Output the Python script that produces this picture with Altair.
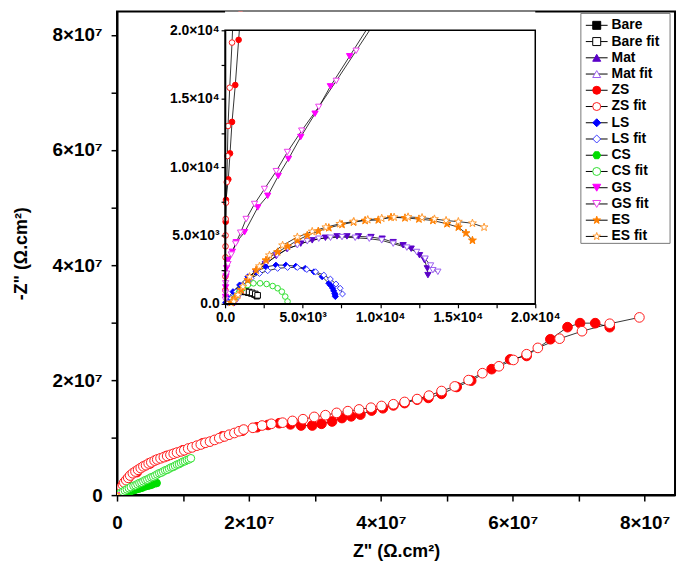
import altair as alt
import pandas as pd

NAMES = ["Bare", "Bare fit", "Mat", "Mat fit", "ZS", "ZS fit", "LS", "LS fit",
         "CS", "CS fit", "GS", "GS fit", "ES", "ES fit"]
STROKES = ["#000000", "#000000", "#5A00C8", "#9A5CF0", "#FF0000", "#FF1A1A",
           "#0000FF", "#3A3AFF", "#00DD00", "#30E030", "#FF00FF", "#EE3CEE",
           "#FF7F00", "#FF9A33"]
FILLS = ["#000000", "#FFFFFF", "#5A00C8", "#FFFFFF", "#FF0000", "#FFFFFF",
         "#0000FF", "#FFFFFF", "#00DD00", "#FFFFFF", "#FF00FF", "#FFFFFF",
         "#FF7F00", "#FFFFFF"]
STAR = ("M0,-1L0.235,-0.324L0.951,-0.309L0.38,0.124L0.588,0.809L0,0.4"
        "L-0.588,0.809L-0.38,0.124L-0.951,-0.309L-0.235,-0.324Z")
HEX = "M-1,0L-0.5,-0.866L0.5,-0.866L1,0L0.5,0.866L-0.5,0.866Z"
DATA_SHAPES = ["square", "square", "triangle-down", "triangle-down", "circle", "circle",
               "diamond", "diamond", "circle", "circle", "triangle-down", "triangle-down",
               STAR, STAR]
LEGEND_SHAPES = ["square", "square", "triangle-up", "triangle-up", "circle", "circle",
                 "diamond", "diamond", HEX, "circle", "triangle-down", "triangle-down",
                 STAR, STAR]
MAIN_SIZES = [20, 20, 20, 20, 95, 95, 20, 20, 60, 60, 20, 20, 30, 30]
INSET_SIZES = [32, 32, 40, 40, 32, 32, 36, 36, 32, 32, 40, 40, 70, 70]

# ---- data (ohm.cm2); "large" arrays are in units of 1e7 ----
BARE_X = [900, 1100, 1300, 1500, 1700, 1900, 2050]
BARE_Y = [920, 900, 870, 820, 760, 680, 560]
BAREFIT_X = [950, 1150, 1350, 1550, 1750, 1950, 2100]
BAREFIT_Y = [950, 930, 900, 860, 800, 720, 620]

MAT_X = [600, 800, 1100, 1500, 2000, 2600, 3300, 4000, 4880, 5620, 6470, 7220, 7860,
         8600, 9410, 10130, 10840, 11480, 12000, 12540, 12860, 13040, 13080]
MAT_Y = [50, 400, 950, 1600, 2300, 2900, 3500, 4000, 4400, 4640, 4830, 4930, 4930,
         4930, 4880, 4760, 4510, 4280, 4030, 3550, 3190, 2590, 2100]
MATFIT_X = [650, 850, 1150, 1550, 2050, 2650, 3350, 4050, 4660, 5300, 6040, 6800, 7540,
            8390, 9300, 10100, 10840, 11720, 12350, 12900, 13250, 13400, 13720]
MATFIT_Y = [100, 450, 1000, 1650, 2350, 2950, 3550, 4050, 4280, 4570, 4760, 4830, 4880,
            4830, 4760, 4640, 4400, 4110, 3790, 3300, 2800, 2460, 2340]

ZS_X_SMALL = [40, 60, 210, 320, 450, 660, 875, 1000]
ZS_Y_SMALL = [6000, 7600, 9100, 11000, 13300, 16000, 19300, 21200]
ZS_X_LARGE = [0.05, 0.15, 0.30, 0.50, 0.75, 1.00, 1.30, 1.60, 1.90, 2.12, 2.29, 2.46,
              2.63, 2.79, 2.96, 3.10, 3.26, 3.41, 3.55, 3.69, 3.86, 4.03, 4.19, 4.36,
              4.55, 4.72, 4.92, 5.15, 5.37, 5.68, 5.96, 6.21, 6.57, 6.83, 7.02, 7.25, 7.47]
ZS_Y_LARGE = [0.10, 0.25, 0.40, 0.55, 0.68, 0.78, 0.90, 1.02, 1.12, 1.18, 1.22, 1.25,
              1.23, 1.21, 1.21, 1.24, 1.28, 1.34, 1.37, 1.40, 1.47, 1.51, 1.56, 1.60,
              1.66, 1.69, 1.76, 1.88, 1.99, 2.19, 2.36, 2.42, 2.71, 2.92, 2.99, 2.99, 2.92]

ZSFIT_X_SMALL = [20, 25, 30, 30, 35, 40, 60, 110, 150, 190, 300, 450, 520]
ZSFIT_Y_SMALL = [1000, 2000, 3400, 4200, 5000, 6200, 7400, 8900, 10800, 13000, 15800,
                 19100, 21000]
ZSFIT_X_LARGE = [0.02, 0.04, 0.07, 0.09, 0.11, 0.14, 0.17, 0.20, 0.24, 0.28, 0.32, 0.36,
                 0.40, 0.44, 0.48, 0.52, 0.57, 0.61, 0.66, 0.71, 0.76, 0.81, 0.86, 0.91,
                 0.97, 1.02, 1.08, 1.14, 1.21, 1.27, 1.34, 1.41, 1.48, 1.55, 1.63, 1.70,
                 1.78, 1.85, 1.92, 2.06, 2.20, 2.34, 2.51,
                 2.66, 2.82, 2.99, 3.16, 3.33, 3.50, 3.67, 3.85, 4.01, 4.19, 4.36, 4.55,
                 4.73, 4.92, 5.12, 5.33, 5.54, 5.79, 6.01, 6.21, 6.38, 6.71, 7.05, 7.47, 7.92]
ZSFIT_Y_LARGE = [0.05, 0.09, 0.14, 0.18, 0.22, 0.26, 0.30, 0.34, 0.38, 0.41, 0.44, 0.47,
                 0.50, 0.52, 0.55, 0.57, 0.60, 0.62, 0.64, 0.66, 0.68, 0.70, 0.72, 0.74,
                 0.76, 0.78, 0.81, 0.83, 0.86, 0.88, 0.91, 0.93, 0.96, 0.99, 1.02, 1.05,
                 1.08, 1.11, 1.14, 1.17, 1.21, 1.24, 1.26,
                 1.29, 1.32, 1.36, 1.39, 1.43, 1.46, 1.49, 1.52, 1.55, 1.58, 1.62, 1.67,
                 1.73, 1.81, 1.89, 2.00, 2.12, 2.24, 2.35, 2.45, 2.56, 2.72, 2.85, 2.98, 3.09]

LS_X = [40, 190, 510, 940, 1470, 2000, 2640, 3280, 3920, 4560, 5160, 5730, 6260, 6690,
        6800, 6940, 7000, 7070, 7100, 7110]
LS_Y = [90, 410, 890, 1380, 1980, 2340, 2700, 2830, 2830, 2750, 2590, 2340, 1980, 1500,
        1350, 1140, 950, 770, 650, 530]
LSFIT_X = [190, 400, 720, 1150, 1680, 2220, 2750, 3390, 4030, 4660, 5270, 5840, 6370,
           6790, 7150, 7420, 7570]
LSFIT_Y = [90, 410, 890, 1380, 1860, 2220, 2420, 2590, 2660, 2660, 2510, 2340, 2100,
           1810, 1450, 1140, 720]

CS_X_LARGE = [0.01, 0.03, 0.05, 0.08, 0.10, 0.13, 0.15, 0.18, 0.20, 0.23, 0.26, 0.29,
              0.32, 0.35, 0.38, 0.42, 0.45, 0.49, 0.52, 0.56, 0.60]
CS_Y_LARGE = [0.01, 0.01, 0.02, 0.03, 0.04, 0.04, 0.05, 0.06, 0.07, 0.08, 0.09, 0.10,
              0.11, 0.12, 0.13, 0.15, 0.16, 0.17, 0.18, 0.20, 0.21]
CSFIT_X_SMALL = [510, 680, 890, 1150, 1470, 1830, 2260, 2680, 3070, 3390, 3660, 3880, 4030]
CSFIT_Y_SMALL = [170, 480, 820, 1140, 1380, 1500, 1500, 1450, 1300, 1140, 890, 530, 170]
CSFIT_X_LARGE = [0.03, 0.06, 0.09, 0.12, 0.15, 0.18, 0.21, 0.25, 0.28, 0.31, 0.34, 0.37,
                 0.40, 0.43, 0.46, 0.49, 0.52, 0.55, 0.58, 0.61, 0.64, 0.67, 0.70, 0.73,
                 0.76, 0.79, 0.82, 0.85, 0.88, 0.91, 0.94, 0.97, 1.00, 1.03, 1.06, 1.09,
                 1.12]
CSFIT_Y_LARGE = [0.02, 0.04, 0.06, 0.08, 0.10, 0.12, 0.14, 0.16, 0.17, 0.19, 0.21, 0.22,
                 0.24, 0.26, 0.27, 0.29, 0.31, 0.32, 0.34, 0.36, 0.38, 0.39, 0.41, 0.43,
                 0.44, 0.46, 0.48, 0.49, 0.51, 0.53, 0.54, 0.56, 0.58, 0.59, 0.61, 0.62,
                 0.64]

GS_X = [30, 40, 60, 100, 190, 470, 720, 1260, 2110, 2750, 3430, 4090, 4880, 5800, 6790,
        8030, 9600]
GS_Y = [500, 1200, 2000, 2600, 3200, 3800, 4500, 5240, 7050, 7900, 9350, 10600, 12200,
        13900, 15900, 18100, 20900]
GSFIT_X = [20, 30, 40, 100, 190, 400, 680, 1000, 1360, 1900, 2540, 3300, 4020, 4940,
           6040, 7170, 8450, 9900]
GSFIT_Y = [300, 800, 1500, 2200, 2900, 3600, 4400, 5200, 6200, 7300, 8400, 9700, 11100,
           12660, 14400, 16300, 18500, 21000]

ES_X = [400, 620, 1040, 1470, 2000, 2640, 3390, 4030, 4660, 5300, 6010, 6690, 7540, 8280,
        9030, 9880, 10700, 11600, 12500, 13400, 14310, 15040, 15530, 15950]
ES_Y = [90, 410, 1010, 1740, 2460, 3190, 3790, 4200, 4640, 5000, 5310, 5560, 5800, 5970,
        6090, 6130, 6330, 6280, 6200, 6090, 5850, 5600, 5170, 4640]
ESFIT_X = [560, 830, 1150, 1580, 2220, 2860, 3710, 4660, 5620, 6500, 7400, 8300, 9200,
           10100, 10900, 11800, 12700, 13500, 14250, 15040, 15950, 16700]
ESFIT_Y = [170, 650, 1260, 1980, 2750, 3550, 4280, 4880, 5290, 5600, 5850, 6020, 6150,
           6250, 6330, 6350, 6300, 6200, 6090, 6010, 5890, 5600]

E7 = 1e7
segments = [
    ("Bare", "a", BARE_X, BARE_Y, 1), ("Bare fit", "a", BAREFIT_X, BAREFIT_Y, 1),
    ("Mat", "a", MAT_X, MAT_Y, 1), ("Mat fit", "a", MATFIT_X, MATFIT_Y, 1),
    ("ZS", "a", ZS_X_SMALL, ZS_Y_SMALL, 1), ("ZS", "b", ZS_X_LARGE, ZS_Y_LARGE, E7),
    ("ZS fit", "a", ZSFIT_X_SMALL, ZSFIT_Y_SMALL, 1),
    ("ZS fit", "b", ZSFIT_X_LARGE, ZSFIT_Y_LARGE, E7),
    ("LS", "a", LS_X, LS_Y, 1), ("LS fit", "a", LSFIT_X, LSFIT_Y, 1),
    ("CS", "b", CS_X_LARGE, CS_Y_LARGE, E7),
    ("CS fit", "a", CSFIT_X_SMALL, CSFIT_Y_SMALL, 1),
    ("CS fit", "b", CSFIT_X_LARGE, CSFIT_Y_LARGE, E7),
    ("GS", "a", GS_X, GS_Y, 1), ("GS fit", "a", GSFIT_X, GSFIT_Y, 1),
    ("ES", "a", ES_X, ES_Y, 1), ("ES fit", "a", ESFIT_X, ESFIT_Y, 1),
]
rows = []
for name, seg, xs, ys, k in segments:
    for i, (xv, yv) in enumerate(zip(xs, ys)):
        rows.append({"series": name, "key": name + "|" + seg, "idx": i,
                     "x": xv * k, "y": yv * k})
df = pd.DataFrame(rows)

FONT = "Liberation Sans"


def point_layers(xenc, yenc, sizes):
    layers = []
    for name, shp, fil, stk, sz in zip(NAMES, DATA_SHAPES, FILLS, STROKES, sizes):
        layers.append(
            alt.Chart(df).transform_filter(alt.datum.series == name)
            .mark_point(shape=shp, fill=fil, stroke=stk, filled=True, opacity=1,
                        strokeWidth=1, size=sz, clip=True)
            .encode(x=xenc, y=yenc)
        )
    return layers


# ---------------- main plot ----------------
main_ticks = [i * 1e7 for i in range(0, 9)]
main_expr = ("datum.value == 0 ? '0' : (datum.value % 20000000 == 0 ? "
             "format(datum.value / 10000000, 'd') + '×10⁷' : '')")
mx_axis = alt.Axis(values=main_ticks, labelExpr=main_expr, title='Z" (Ω.cm²)', grid=False,
                   tickSize=6, tickWidth=1.5, domainWidth=2, labelFontSize=19,
                   titleFontSize=18, labelPadding=13, titlePadding=10, labelFlush=False,
                   labelOverlap=False)
my_axis = alt.Axis(values=main_ticks, labelExpr=main_expr, title='-Z" (Ω.cm²)', grid=False,
                   tickSize=6, tickWidth=1.5, domainWidth=2, labelFontSize=19,
                   titleFontSize=18, labelPadding=9, titlePadding=22, labelFlush=False,
                   labelOverlap=False)
mx = alt.X("x:Q", scale=alt.Scale(domain=[0, 8.46e7], nice=False, zero=False), axis=mx_axis)
my = alt.Y("y:Q", scale=alt.Scale(domain=[0, 8.41e7], nice=False, zero=False), axis=my_axis)

main_lines = alt.Chart(df).mark_line(color="black", strokeWidth=0.8, clip=True).encode(
    x=mx, y=my, detail="key:N", order="idx:Q")
main = alt.layer(main_lines, *point_layers(mx, my, MAIN_SIZES))

# ---------------- inset ----------------
inset_ticks = [i * 2500 for i in range(0, 9)]
inset_expr = ("datum.value == 0 ? '0.0' : (datum.value % 5000 != 0 ? '' : "
              "(datum.value < 10000 ? format(datum.value / 1000, '.1f') + '×10³' : "
              "format(datum.value / 10000, '.1f') + '×10⁴'))")
ix_axis = alt.Axis(orient="bottom", offset=-193, values=inset_ticks, labelExpr=inset_expr,
                   title=None, grid=False, tickSize=4, tickWidth=1.2, domainWidth=1.5,
                   labelFontSize=14, labelPadding=3, labelFlush=False, labelOverlap=False,
                   zindex=1)
iy_axis = alt.Axis(orient="left", offset=-109, values=inset_ticks, labelExpr=inset_expr,
                   title=None, grid=False, tickSize=4, tickWidth=1.2, domainWidth=1.5,
                   labelFontSize=14, labelPadding=2, labelFlush=False, labelOverlap=False,
                   zindex=1)
ix_scale = alt.Scale(domain=[0, 20000], range=[109, 422], nice=False, zero=False)
iy_scale = alt.Scale(domain=[0, 20000], range=[295, 19], nice=False, zero=False)
ix = alt.X("x:Q", scale=ix_scale, axis=ix_axis)
iy = alt.Y("y:Q", scale=iy_scale, axis=iy_axis)

frame_df = pd.DataFrame({"x": [0], "x2": [20000], "y": [0], "y2": [20000]})
mask_df = pd.DataFrame({"x": [0], "x2": [20000], "y": [20000], "y2": [22500]})

inset_bg = alt.Chart(frame_df).mark_rect(fill="white").encode(
    x=ix, x2="x2:Q", y=iy, y2="y2:Q")
inset_lines = alt.Chart(df).mark_line(color="black", strokeWidth=0.8, clip=True).encode(
    x=ix, y=iy, detail="key:N", order="idx:Q")
inset_mask = alt.Chart(mask_df).mark_rect(fill="white", clip=True).encode(
    x=ix, x2="x2:Q", y=iy, y2="y2:Q")
inset_frame = alt.Chart(frame_df).mark_rect(fill=None, stroke="black", strokeWidth=1.5).encode(
    x=ix, x2="x2:Q", y=iy, y2="y2:Q")
inset = alt.layer(inset_bg, inset_lines, *point_layers(ix, iy, INSET_SIZES),
                  inset_mask, inset_frame)

# ---------------- legend ----------------
leg_df = pd.DataFrame({"series": NAMES})
ly = alt.Y("series:N", scale=alt.Scale(type="point", domain=NAMES, range=[14, 227], padding=0),
           axis=None)
box_df = pd.DataFrame({"series": ["box"]})
leg_box = alt.Chart(box_df).mark_rect(fill="white", stroke="#777777", strokeWidth=1).encode(
    x=alt.value(468), x2=alt.value(558), y=alt.value(2), y2=alt.value(234))
leg_rule = alt.Chart(leg_df).mark_rule(color="black", strokeWidth=1).encode(
    x=alt.value(473), x2=alt.value(495), y=ly)
leg_pts = alt.Chart(leg_df).mark_point(filled=True, opacity=1, strokeWidth=1, size=65).encode(
    x=alt.value(484), y=ly,
    shape=alt.Shape("series:N", scale=alt.Scale(domain=NAMES, range=LEGEND_SHAPES), legend=None),
    fill=alt.Fill("series:N", scale=alt.Scale(domain=NAMES, range=FILLS), legend=None),
    stroke=alt.Stroke("series:N", scale=alt.Scale(domain=NAMES, range=STROKES), legend=None))
leg_text = alt.Chart(leg_df).mark_text(align="left", baseline="middle", font=FONT,
                                       fontSize=14, fontWeight="bold", color="black").encode(
    x=alt.value(499), y=ly, text="series:N")
legend = alt.layer(leg_box, leg_rule, leg_pts, leg_text)

chart = alt.layer(main, inset, legend).resolve_scale(
    x="independent", y="independent", shape="independent", fill="independent",
    stroke="independent"
).properties(
    width=563, height=488,
    autosize=alt.AutoSizeParams(type="none"),
    padding={"left": 110, "top": 1, "right": 2, "bottom": 64},
).configure_view(stroke="black", strokeWidth=2).configure_axis(
    domainColor="black", tickColor="black", labelColor="black", titleColor="black",
    labelFont=FONT, titleFont=FONT, labelFontWeight="bold", titleFontWeight="bold")

chart.save("out.html", embed_options={"renderer": "svg", "actions": False})
